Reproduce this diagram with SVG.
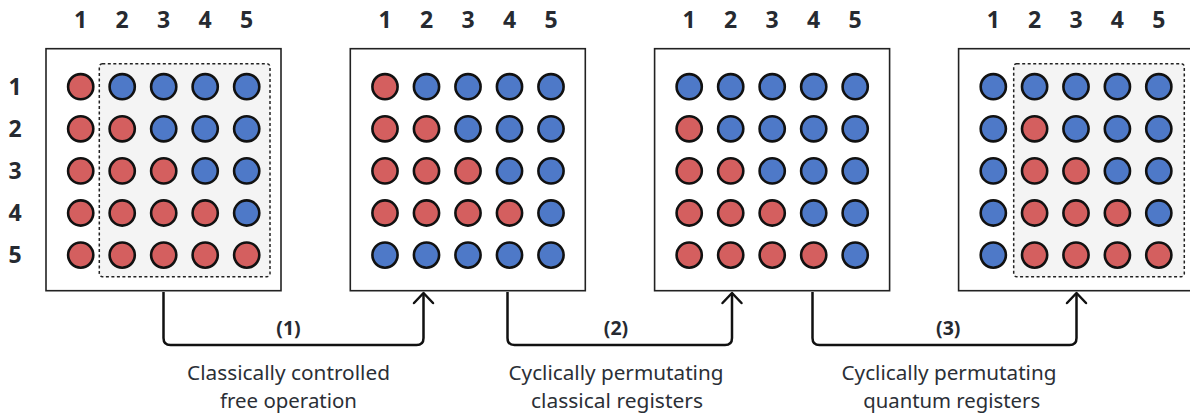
<svg xmlns="http://www.w3.org/2000/svg" xmlns:xlink="http://www.w3.org/1999/xlink" width="1190" height="416" viewBox="0 0 1190 416">
<style>
.panel{fill:#fff;stroke:#222;stroke-width:1.6}
.sub{fill:#f4f4f4;stroke:#222;stroke-width:1.5;stroke-dasharray:3 2.5}
.r{fill:#d45f5f;stroke:#111;stroke-width:2.6}
.b{fill:#4e79c8;stroke:#111;stroke-width:2.6}
.idx{font-family:"Noto Sans","Liberation Sans",sans-serif;font-weight:bold;font-size:23px;fill:#262a31;text-anchor:middle}
.step{font-family:"Noto Sans","Liberation Sans",sans-serif;font-weight:bold;font-size:19.5px;fill:#262a31;text-anchor:middle}
.cap{font-family:"Noto Sans","Liberation Sans",sans-serif;font-size:20px;fill:#2b2f36;text-anchor:middle}
.conn{fill:none;stroke:#111;stroke-width:2.5;stroke-linejoin:round}
</style>
<defs>
<circle id="c" r="12.6"/>
<marker id="arr" markerUnits="userSpaceOnUse" markerWidth="24" markerHeight="24" refX="0" refY="0" viewBox="-12 -12 24 24" orient="auto" overflow="visible">
<path d="M-10,-9.5 L0,0 L-10,9.5" fill="none" stroke="#111" stroke-width="2.5" stroke-linecap="round" stroke-linejoin="round"/>
</marker>
</defs>
<rect width="1190" height="416" fill="#fff"/>

<g id="row-labels">
<text class="idx" x="15" y="95">1</text>
<text class="idx" x="15" y="137">2</text>
<text class="idx" x="15" y="179">3</text>
<text class="idx" x="15" y="221">4</text>
<text class="idx" x="15" y="263">5</text>
</g>

<g id="panel1">
<rect class="panel" x="46" y="48.7" width="235" height="242"/>
<rect class="sub" x="99.3" y="63.7" width="170.7" height="213" rx="3"/>
<g class="idx">
<text x="80.7" y="27.5">1</text><text x="122.2" y="27.5">2</text><text x="163.7" y="27.5">3</text><text x="205.2" y="27.5">4</text><text x="246.7" y="27.5">5</text>
</g>
<use href="#c" x="80.7" y="86.7" class="r"/><use href="#c" x="122.2" y="86.7" class="b"/><use href="#c" x="163.7" y="86.7" class="b"/><use href="#c" x="205.2" y="86.7" class="b"/><use href="#c" x="246.7" y="86.7" class="b"/>
<use href="#c" x="80.7" y="128.8" class="r"/><use href="#c" x="122.2" y="128.8" class="r"/><use href="#c" x="163.7" y="128.8" class="b"/><use href="#c" x="205.2" y="128.8" class="b"/><use href="#c" x="246.7" y="128.8" class="b"/>
<use href="#c" x="80.7" y="170.9" class="r"/><use href="#c" x="122.2" y="170.9" class="r"/><use href="#c" x="163.7" y="170.9" class="r"/><use href="#c" x="205.2" y="170.9" class="b"/><use href="#c" x="246.7" y="170.9" class="b"/>
<use href="#c" x="80.7" y="213" class="r"/><use href="#c" x="122.2" y="213" class="r"/><use href="#c" x="163.7" y="213" class="r"/><use href="#c" x="205.2" y="213" class="r"/><use href="#c" x="246.7" y="213" class="b"/>
<use href="#c" x="80.7" y="255.1" class="r"/><use href="#c" x="122.2" y="255.1" class="r"/><use href="#c" x="163.7" y="255.1" class="r"/><use href="#c" x="205.2" y="255.1" class="r"/><use href="#c" x="246.7" y="255.1" class="r"/>
</g>

<g id="panel2">
<rect class="panel" x="350.3" y="48.7" width="235" height="242"/>
<g class="idx">
<text x="385" y="27.5">1</text><text x="426.5" y="27.5">2</text><text x="468" y="27.5">3</text><text x="509.5" y="27.5">4</text><text x="551" y="27.5">5</text>
</g>
<use href="#c" x="385" y="86.7" class="r"/><use href="#c" x="426.5" y="86.7" class="b"/><use href="#c" x="468" y="86.7" class="b"/><use href="#c" x="509.5" y="86.7" class="b"/><use href="#c" x="551" y="86.7" class="b"/>
<use href="#c" x="385" y="128.8" class="r"/><use href="#c" x="426.5" y="128.8" class="r"/><use href="#c" x="468" y="128.8" class="b"/><use href="#c" x="509.5" y="128.8" class="b"/><use href="#c" x="551" y="128.8" class="b"/>
<use href="#c" x="385" y="170.9" class="r"/><use href="#c" x="426.5" y="170.9" class="r"/><use href="#c" x="468" y="170.9" class="r"/><use href="#c" x="509.5" y="170.9" class="b"/><use href="#c" x="551" y="170.9" class="b"/>
<use href="#c" x="385" y="213" class="r"/><use href="#c" x="426.5" y="213" class="r"/><use href="#c" x="468" y="213" class="r"/><use href="#c" x="509.5" y="213" class="r"/><use href="#c" x="551" y="213" class="b"/>
<use href="#c" x="385" y="255.1" class="b"/><use href="#c" x="426.5" y="255.1" class="b"/><use href="#c" x="468" y="255.1" class="b"/><use href="#c" x="509.5" y="255.1" class="b"/><use href="#c" x="551" y="255.1" class="b"/>
</g>

<g id="panel3">
<rect class="panel" x="654.6" y="48.7" width="235" height="242"/>
<g class="idx">
<text x="689.2" y="27.5">1</text><text x="730.7" y="27.5">2</text><text x="772.2" y="27.5">3</text><text x="813.7" y="27.5">4</text><text x="855.2" y="27.5">5</text>
</g>
<use href="#c" x="689.2" y="86.7" class="b"/><use href="#c" x="730.7" y="86.7" class="b"/><use href="#c" x="772.2" y="86.7" class="b"/><use href="#c" x="813.7" y="86.7" class="b"/><use href="#c" x="855.2" y="86.7" class="b"/>
<use href="#c" x="689.2" y="128.8" class="r"/><use href="#c" x="730.7" y="128.8" class="b"/><use href="#c" x="772.2" y="128.8" class="b"/><use href="#c" x="813.7" y="128.8" class="b"/><use href="#c" x="855.2" y="128.8" class="b"/>
<use href="#c" x="689.2" y="170.9" class="r"/><use href="#c" x="730.7" y="170.9" class="r"/><use href="#c" x="772.2" y="170.9" class="b"/><use href="#c" x="813.7" y="170.9" class="b"/><use href="#c" x="855.2" y="170.9" class="b"/>
<use href="#c" x="689.2" y="213" class="r"/><use href="#c" x="730.7" y="213" class="r"/><use href="#c" x="772.2" y="213" class="r"/><use href="#c" x="813.7" y="213" class="b"/><use href="#c" x="855.2" y="213" class="b"/>
<use href="#c" x="689.2" y="255.1" class="r"/><use href="#c" x="730.7" y="255.1" class="r"/><use href="#c" x="772.2" y="255.1" class="r"/><use href="#c" x="813.7" y="255.1" class="r"/><use href="#c" x="855.2" y="255.1" class="b"/>
</g>

<g id="panel4">
<rect class="panel" x="958.6" y="48.7" width="235" height="242"/>
<rect class="sub" x="1013.7" y="63.7" width="170.6" height="213" rx="3"/>
<g class="idx">
<text x="993.3" y="27.5">1</text><text x="1034.6" y="27.5">2</text><text x="1076" y="27.5">3</text><text x="1117.4" y="27.5">4</text><text x="1158.8" y="27.5">5</text>
</g>
<use href="#c" x="993.3" y="86.7" class="b"/><use href="#c" x="1034.6" y="86.7" class="b"/><use href="#c" x="1076" y="86.7" class="b"/><use href="#c" x="1117.4" y="86.7" class="b"/><use href="#c" x="1158.8" y="86.7" class="b"/>
<use href="#c" x="993.3" y="128.8" class="b"/><use href="#c" x="1034.6" y="128.8" class="r"/><use href="#c" x="1076" y="128.8" class="b"/><use href="#c" x="1117.4" y="128.8" class="b"/><use href="#c" x="1158.8" y="128.8" class="b"/>
<use href="#c" x="993.3" y="170.9" class="b"/><use href="#c" x="1034.6" y="170.9" class="r"/><use href="#c" x="1076" y="170.9" class="r"/><use href="#c" x="1117.4" y="170.9" class="b"/><use href="#c" x="1158.8" y="170.9" class="b"/>
<use href="#c" x="993.3" y="213" class="b"/><use href="#c" x="1034.6" y="213" class="r"/><use href="#c" x="1076" y="213" class="r"/><use href="#c" x="1117.4" y="213" class="r"/><use href="#c" x="1158.8" y="213" class="b"/>
<use href="#c" x="993.3" y="255.1" class="b"/><use href="#c" x="1034.6" y="255.1" class="r"/><use href="#c" x="1076" y="255.1" class="r"/><use href="#c" x="1117.4" y="255.1" class="r"/><use href="#c" x="1158.8" y="255.1" class="r"/>
</g>

<g id="connectors">
<path class="conn" marker-end="url(#arr)" d="M163.5 292 V338 Q163.5 345 170.5 345 H416.5 Q423.5 345 423.5 338 V293"/>
<path class="conn" marker-end="url(#arr)" d="M507.5 292 V338 Q507.5 345 514.5 345 H725 Q732 345 732 338 V293"/>
<path class="conn" marker-end="url(#arr)" d="M812.5 292 V338 Q812.5 345 819.5 345 H1069.5 Q1076.5 345 1076.5 338 V293"/>
</g>

<g id="labels">
<text class="step" x="288.5" y="334.5">(1)</text>
<text class="step" x="616" y="334.5">(2)</text>
<text class="step" x="948.3" y="334.5">(3)</text>
<text class="cap" x="288.5" y="380" textLength="203" lengthAdjust="spacingAndGlyphs">Classically controlled</text>
<text class="cap" x="288.5" y="408" textLength="137" lengthAdjust="spacingAndGlyphs">free operation</text>
<text class="cap" x="616" y="380" textLength="215" lengthAdjust="spacingAndGlyphs">Cyclically permutating</text>
<text class="cap" x="617" y="408" textLength="172" lengthAdjust="spacingAndGlyphs">classical registers</text>
<text class="cap" x="949" y="380" textLength="215" lengthAdjust="spacingAndGlyphs">Cyclically permutating</text>
<text class="cap" x="951.7" y="408" textLength="177" lengthAdjust="spacingAndGlyphs">quantum registers</text>
</g>
</svg>
